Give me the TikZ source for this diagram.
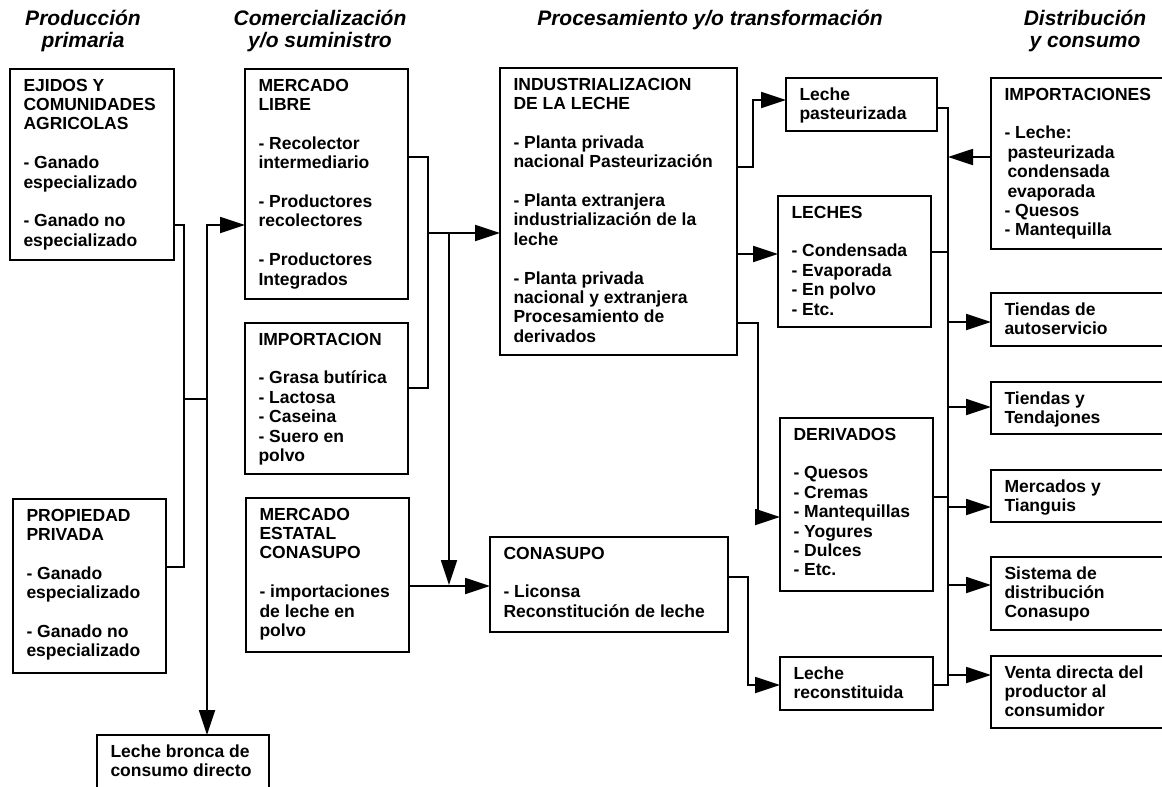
\documentclass[tikz,border=0pt]{standalone}
\usepackage{fontspec}
\setmainfont{Liberation Sans}
\usetikzlibrary{arrows.meta}

% body text of the boxes
\newcommand\bodyfont{\bfseries\fontsize{17.5}{19.4}\selectfont}
% an empty line between groups of text
\newcommand\vgap{\\[19.4pt]}
% \panel{name}{x1}{y1}{x2}{y2}{text}: framed box, text set from its top left corner
\newcommand\panel[6]{%
  \node[box] (#1) at (#2,#3)
    {\parbox[c][\dimexpr #5pt-#3pt-18pt\relax][t]{\dimexpr #4pt-#2pt\relax}%
      {\bodyfont\raggedright\leftskip=13.5pt\rule{0pt}{13pt}#6}};}

\begin{document}
\begin{tikzpicture}[x=1pt,y=-1pt,
  box/.style={draw, line width=1.8pt, inner xsep=0pt, inner ysep=9pt,
              outer sep=0pt, anchor=north west},
  head/.style={anchor=north, align=center, inner sep=0pt,
               font=\bfseries\itshape\fontsize{21}{22}\selectfont},
  link/.style={line width=1.8pt, line cap=rect, line join=miter},
  tip/.tip={Triangle[length=25pt,width=16pt]},
  arr/.style={link, -tip},
  twoarr/.style={link, tip-tip},
]
\useasboundingbox (0,0) rectangle (1162,787);
\fill[white] (0,0) rectangle (1162,787);
\clip (0,0) rectangle (1162,787);

% column headings
\node[head] (h1) at (83,9)   {\rule{0pt}{16pt}Producción\\primaria};
\node[head] (h2) at (320,9)  {\rule{0pt}{16pt}Comercialización\\y/o suministro};
\node[head] (h3) at (710,9)  {\rule{0pt}{16pt}Procesamiento y/o transformación};
\node[head] (h4) at (1085,9) {\rule{0pt}{16pt}Distribución\\y consumo};

% primary production
\panel{ejidos}{10}{69}{174}{260}{EJIDOS Y\\COMUNIDADES\\AGRICOLAS\vgap
  - Ganado\\especializado\vgap - Ganado no\\especializado}
\panel{priv}{13}{499}{166}{673}{PROPIEDAD\\PRIVADA\vgap
  - Ganado\\especializado\vgap - Ganado no\\especializado}
\panel{bronca}{97}{735}{269}{800}{Leche bronca de\\consumo directo}

% marketing and supply
\panel{libre}{245}{69}{408}{299}{MERCADO\\LIBRE\vgap
  - Recolector\\intermediario\vgap - Productores\\recolectores\vgap
  - Productores\\Integrados}
\panel{imp}{245}{323}{408}{474}{IMPORTACION\vgap
  - Grasa butírica\\- Lactosa\\- Caseina\\- Suero en\\polvo}
\panel{estatal}{246}{498}{409}{652}{MERCADO\\ESTATAL\\CONASUPO\vgap
  - importaciones\\de leche en\\polvo}

% processing
\panel{ind}{500}{68}{737}{355}{INDUSTRIALIZACION\\DE LA LECHE\vgap
  - Planta privada\\nacional Pasteurización\vgap
  - Planta extranjera\\industrialización de la\\leche\vgap
  - Planta privada\\nacional y extranjera\\Procesamiento de\\derivados}
\panel{cona}{490}{537}{728}{632}{CONASUPO\vgap - Liconsa\\Reconstitución de leche}
\panel{past}{786}{78}{937}{131}{Leche\\pasteurizada}
\panel{leches}{778}{196}{931}{327}{LECHES\vgap
  - Condensada\\- Evaporada\\- En polvo\\- Etc.}
\panel{deriv}{780}{418}{933}{591}{DERIVADOS\vgap
  - Quesos\\- Cremas\\- Mantequillas\\- Yogures\\- Dulces\\- Etc.}
\panel{recon}{780}{657}{933}{710}{Leche\\reconstituida}

% distribution and consumption
\panel{impo}{991}{78}{1175}{249}{IMPORTACIONES\vgap
  - Leche:\\\hspace*{3pt}pasteurizada\\\hspace*{3pt}condensada\\\hspace*{3pt}evaporada\\
  - Quesos\\- Mantequilla}
\panel{auto}{991}{293}{1175}{346}{Tiendas de\\autoservicio}
\panel{tend}{991}{382}{1175}{434}{Tiendas y\\Tendajones}
\panel{merc}{991}{470}{1175}{522}{Mercados y\\Tianguis}
\panel{sist}{991}{557}{1175}{630}{Sistema de\\distribución\\Conasupo}
\panel{venta}{991}{656}{1175}{728}{Venta directa del\\productor al\\consumidor}

% junction points
\coordinate (tk) at (207,225);
\coordinate (jp) at (207,399);
\coordinate (jc) at (428,233);
\coordinate (jd) at (449,233);
\coordinate (bus) at (948,108);

% primary production to marketing
\draw[link] (ejidos.east |- 0,225) -- (184,225) |- (priv.east |- 0,567);
\draw[link] (184,399) -- (jp);
\draw[twoarr] (bronca.north -| tk) -- (tk) -- (libre.west |- tk);

% marketing to processing
\draw[link] (libre.east |- 0,157) -| (428,388) -- (imp.east |- 0,388);
\draw[arr] (jc) -- (ind.west |- jc);
\draw[arr] (jd) -- (449,585);
\draw[arr] (estatal.east |- 0,586) -- (cona.west |- 0,586);

% processing outputs
\draw[arr] (ind.east |- 0,167) -- (753,167) |- (past.west |- 0,100);
\draw[arr] (ind.east |- 0,254) -- (leches.west |- 0,254);
\draw[arr] (ind.east |- 0,323) -- (758,323) |- (deriv.west |- 0,517);
\draw[arr] (cona.east |- 0,577) -- (748,577) |- (recon.west |- 0,685);

% distribution bus
\draw[link] (past.east |- bus) -- (bus) -- (bus |- 0,685) -- (recon.east |- 0,685);
\draw[link] (leches.east |- 0,252) -- (bus |- 0,252);
\draw[link] (deriv.east |- 0,497) -- (bus |- 0,497);
\draw[arr] (impo.west |- 0,157) -- (bus |- 0,157);
\draw[arr] (bus |- 0,322) -- (auto.west |- 0,322);
\draw[arr] (bus |- 0,407) -- (tend.west |- 0,407);
\draw[arr] (bus |- 0,507) -- (merc.west |- 0,507);
\draw[arr] (bus |- 0,585) -- (sist.west |- 0,585);
\draw[arr] (bus |- 0,675) -- (venta.west |- 0,675);
\end{tikzpicture}
\end{document}
